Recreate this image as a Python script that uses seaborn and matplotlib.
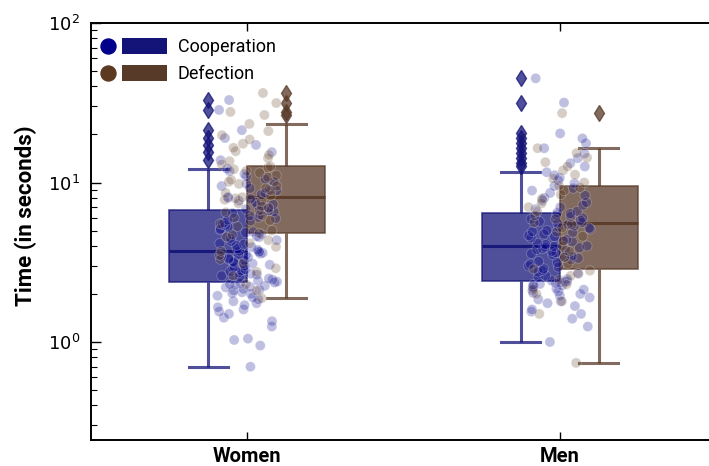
import numpy as np
import pandas as pd
import matplotlib
matplotlib.use("Agg")
import matplotlib.pyplot as plt
import seaborn as sns
from matplotlib.colors import to_rgb
from matplotlib.legend_handler import HandlerBase
from matplotlib.lines import Line2D
from matplotlib.patches import Rectangle

# categories
groups = ["Women", "Men"]
choices = ["Cooperation", "Defection"]

# decision times (seconds)
women_coop = [0.70, 0.95, 1.03, 1.05, 1.25, 1.35, 1.42, 1.5, 1.55, 1.6, 1.65, 1.7, 1.75, 1.8,
              1.85, 1.9, 1.95, 2.0, 2.02, 2.05, 2.1, 2.12, 2.15, 2.2, 2.22, 2.25, 2.28, 2.3, 2.33,
              2.36, 2.39, 2.42, 2.46, 2.5, 2.55, 2.6, 2.64, 2.68, 2.72, 2.76, 2.8, 2.85, 2.9, 2.95,
              3.0, 3.05, 3.1, 3.15, 3.2, 3.25, 3.3, 3.35, 3.4, 3.45, 3.5, 3.54, 3.58, 3.62, 3.66,
              3.69, 3.72, 3.78, 3.85, 3.93, 4.02, 4.1, 4.15, 4.28, 4.35, 4.47, 4.55, 4.6, 4.72,
              4.85, 4.9, 5.05, 5.12, 5.25, 5.4, 5.48, 5.6, 5.75, 5.82, 5.95, 6.05, 6.2, 6.3, 6.42,
              6.55, 6.65, 6.72, 6.8, 6.95, 7.1, 7.2, 7.3, 7.5, 7.7, 7.9, 8.0, 8.1, 8.4, 8.6, 8.9,
              9.0, 9.2, 9.5, 9.8, 10.1, 10.5, 10.9, 11.3, 11.8, 12.2, 13.8, 15.5, 17.2, 19.0, 21.3,
              28.5, 32.9]
women_defect = [1.88, 2.1, 2.3, 2.6, 2.75, 2.9, 3.1, 3.3, 3.5, 3.7, 3.95, 4.15, 4.35, 4.55, 4.7,
                4.8, 5.0, 5.3, 5.5, 5.8, 6.0, 6.2, 6.5, 6.7, 6.9, 7.1, 7.4, 7.6, 7.8, 7.95, 8.08,
                8.3, 8.6, 8.9, 9.2, 9.5, 9.8, 10.1, 10.4, 10.8, 11.1, 11.5, 11.8, 12.1, 12.4, 12.6,
                13.0, 13.6, 14.2, 14.9, 15.7, 16.5, 17.5, 18.6, 19.8, 21.0, 23.3, 26.5, 27.7, 31.5,
                36.4]
men_coop = [1.0, 1.25, 1.4, 1.5, 1.55, 1.6, 1.68, 1.75, 1.8, 1.85, 1.9, 1.95, 2.0, 2.03, 2.07,
            2.1, 2.13, 2.16, 2.2, 2.23, 2.26, 2.29, 2.31, 2.34, 2.36, 2.38, 2.4, 2.42, 2.48, 2.55,
            2.6, 2.68, 2.75, 2.8, 2.88, 2.95, 3.0, 3.08, 3.15, 3.2, 3.28, 3.35, 3.4, 3.45, 3.52,
            3.58, 3.63, 3.7, 3.75, 3.8, 3.85, 3.9, 3.94, 3.97, 4.0, 4.08, 4.15, 4.25, 4.32, 4.4,
            4.5, 4.58, 4.65, 4.75, 4.85, 4.92, 5.0, 5.1, 5.18, 5.25, 5.35, 5.45, 5.55, 5.62, 5.7,
            5.8, 5.9, 6.0, 6.12, 6.25, 6.38, 6.47, 6.6, 6.8, 7.0, 7.2, 7.5, 7.7, 8.0, 8.3, 8.6,
            8.9, 9.2, 9.5, 9.9, 10.3, 10.7, 11.1, 11.6, 12.6, 13.2, 14.2, 15.2, 16.4, 17.6, 18.9,
            20.3, 31.7, 45.0]
men_defect = [0.74, 1.5, 1.8, 2.0, 2.15, 2.3, 2.45, 2.6, 2.7, 2.8, 2.87, 3.1, 3.4, 3.7, 4.0,
              4.3, 4.6, 4.9, 5.2, 5.45, 5.6, 5.9, 6.2, 6.6, 7.0, 7.4, 7.9, 8.4, 8.9, 9.3, 9.55,
              10.0, 10.6, 11.2, 11.9, 12.6, 13.4, 14.3, 15.3, 16.4, 27.2]

box_colors = ["#141478", "#583a28"]
point_colors = ["#00008b", "#5c3a21"]

parts = []
for sex, choice, vals in [("Women", "Cooperation", women_coop),
                          ("Women", "Defection", women_defect),
                          ("Men", "Cooperation", men_coop),
                          ("Men", "Defection", men_defect)]:
    parts.append(pd.DataFrame({"sex": sex, "choice": choice, "time": vals}))
df = pd.concat(parts, ignore_index=True)


class PointBoxHandler(HandlerBase):
    # circle on the left, filled box on the right
    def create_artists(self, legend, orig_handle, xdescent, ydescent, width, height,
                       fontsize, trans):
        pt, box = orig_handle
        yc = -ydescent + height / 2
        x0 = -xdescent
        dot = Line2D([x0 + 5.4], [yc], marker="o", markersize=10.8, linestyle="",
                     color=pt.get_color(), transform=trans)
        rw, rh = 32.4, 11.5
        rect = Rectangle((x0 + width - rw, yc - rh / 2), rw, rh,
                         facecolor=box.get_facecolor(), edgecolor="none", transform=trans)
        return [dot, rect]


np.random.seed(3)
fig = plt.figure(figsize=(7.09, 4.66), dpi=100)
ax = fig.add_axes([91 / 709, 26 / 466, 625 / 709, 417 / 466])

sns.boxplot(data=df, x="sex", y="time", hue="choice", order=groups, hue_order=choices,
            palette=box_colors, saturation=1, width=0.5, gap=0, whis=1.5,
            legend=False, ax=ax)

for cont in ax.containers:
    fc = to_rgb(cont.boxes[0].get_facecolor())
    k = 0 if np.allclose(fc, to_rgb(box_colors[0]), atol=0.02) else 1
    base = to_rgb(box_colors[k])
    soft = (*base, 0.75)
    for b in cont.boxes:
        b.set_facecolor(soft)
        b.set_edgecolor(soft)
        b.set_linewidth(1.2)
    for ln in list(cont.whiskers) + list(cont.caps):
        ln.set_color(soft)
        ln.set_linewidth(2.2)
    for ln in cont.medians:
        ln.set_color((*base, 0.9))
        ln.set_linewidth(2.2)
    for ln in cont.fliers:
        ln.set_marker("d")
        ln.set_markersize(8)
        ln.set_markerfacecolor(soft)
        ln.set_markeredgecolor(soft)

sns.stripplot(data=df, x="sex", y="time", hue="choice", order=groups, hue_order=choices,
              palette=point_colors, dodge=False, jitter=0.1, size=7.2, alpha=0.25,
              linewidth=0.6, edgecolor="white", legend=False, ax=ax)

ax.set_yscale("log")
ax.set_ylim(0.243, 100)
ax.set_xlim(-0.5, 1.5)

ax.set_xticks([0, 1])
ax.set_xticklabels(groups, fontsize=14.5, fontweight="bold", family="Roboto")
ax.set_xlabel("")
ax.set_ylabel("Time (in seconds)", fontsize=16, fontweight="bold", family="Roboto")
ax.yaxis.set_label_coords(-0.087, 0.537)

ax.tick_params(axis="x", direction="in", length=6, width=1, top=True, pad=5)
ax.tick_params(axis="y", which="major", direction="in", length=7, width=1, labelsize=13,
               right=False, pad=8)
ax.tick_params(axis="y", which="minor", direction="in", length=4, width=0.8, right=False)

for side in ["left", "bottom", "top"]:
    ax.spines[side].set_linewidth(1.4)
ax.spines["right"].set_visible(False)

handles = [(Line2D([], [], marker="o", color=point_colors[i]),
            Rectangle((0, 0), 1, 1, facecolor=box_colors[i])) for i in range(2)]
ax.legend(handles, choices, handler_map={tuple: PointBoxHandler()}, loc="upper left",
          bbox_to_anchor=(-0.0096, 1.0),
          frameon=False, prop={"family": "Roboto", "size": 13}, handlelength=3.7,
          handleheight=0.9, handletextpad=0.6, labelspacing=0.47, borderaxespad=0.45)

fig.savefig("out.png", dpi=100)
